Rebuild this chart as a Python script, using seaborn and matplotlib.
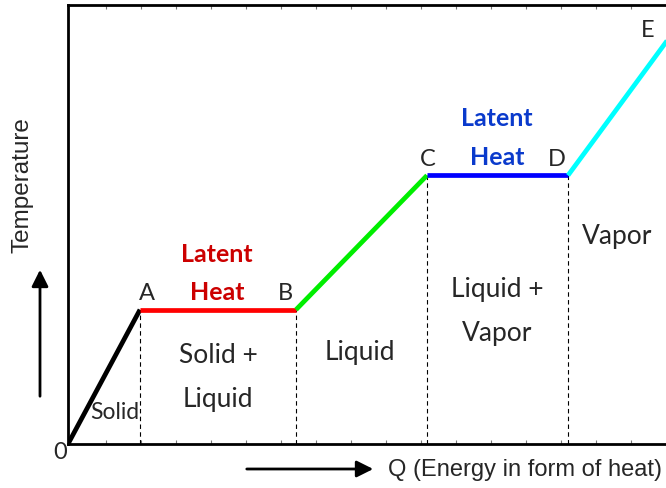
import matplotlib
matplotlib.use("Agg")
import matplotlib.pyplot as plt
import seaborn as sns
import pandas as pd
import numpy as np

# heating curve: energy added (Q) vs temperature
point_names = ["0", "A", "B", "C", "D", "E"]
q_values = [0, 72, 228, 359, 500, 615]
t_values = [0, 134, 134, 268, 268, 424]
segment_colors = ["black", "#ff0000", "#00ee00", "#0000ff", "#00ffff"]

# region labels (text, q, t)
phase_labels = ["Solid", "Solid +\nLiquid", "Liquid", "Liquid +\nVapor", "Vapor"]
phase_q = [47, 150, 292, 429, 549]
phase_t = [32, 67, 92, 133, 208]

sns.set_theme(style="white")
plt.rcParams['font.family'] = ['Lato', 'DejaVu Sans']

fig = plt.figure(figsize=(6.66, 4.89), dpi=100)
ax = fig.add_axes([68 / 666, 44 / 489, 598 / 666, 439 / 489])

for i in range(len(segment_colors)):
    seg = pd.DataFrame({"Q": q_values[i:i + 2], "T": t_values[i:i + 2]})
    sns.lineplot(data=seg, x="Q", y="T", color=segment_colors[i], linewidth=3.4,
                 ax=ax, solid_capstyle="butt", zorder=3)

# dashed drop lines under A, B, C, D
for q, t in zip(q_values[1:5], t_values[1:5]):
    ax.plot([q, q], [0, t], color="black", linestyle=(0, (4, 3)), linewidth=0.8, zorder=2)

ax.set_xlim(0, 598)
ax.set_ylim(0, 438)

for spine in ["left", "bottom", "top"]:
    ax.spines[spine].set_color("black")
    ax.spines[spine].set_linewidth(2)
ax.spines["right"].set_visible(False)

ax.set_xticks(np.arange(38, 598, 35))
ax.set_yticks([])
ax.tick_params(axis="x", which="both", direction="in", length=3, width=0.8, color="#777777",
               top=True, bottom=True, labelbottom=False)
ax.set_xlabel("")
ax.set_ylabel("")

# point labels
name_offsets = [(-8, -7), (7, 17), (-11, 17), (1, 17), (-11, 17), (-35, 0)]
for name, q, t, off in zip(point_names, q_values, t_values, name_offsets):
    if name == "E":
        ax.text(580, 414, name, fontsize=17, ha="center", va="center")
    else:
        ax.text(q + off[0], t + off[1], name, fontsize=17, ha="center", va="center", clip_on=False)

for lab, q, t in zip(phase_labels, phase_q, phase_t):
    size = 16.5 if lab == "Solid" else 19
    ax.text(q, t, lab, fontsize=size, ha="center", va="center", linespacing=1.95)

ax.text(149, 171, "Latent\nHeat", fontsize=18, fontweight="bold", color="#cc0000",
        ha="center", va="center", linespacing=1.83)
ax.text(429, 306, "Latent\nHeat", fontsize=18, fontweight="bold", color="#0a3acc",
        ha="center", va="center", linespacing=1.83)

# axis captions with arrows
fig.text(22 / 666, 1 - 185 / 489, "Temperature", rotation=90, ha="center", va="center",
         fontsize=17.5, family="Liberation Sans")
fig.text(388 / 666, 1 - 470 / 489, "Q (Energy in form of heat)", ha="left", va="center",
         fontsize=17, family="Liberation Sans")
fig.patches.append(matplotlib.patches.FancyArrowPatch(
    (40 / 666, 89 / 489), (40 / 666, 221 / 489), transform=fig.transFigure,
    arrowstyle="-|>,head_length=10,head_width=5", color="black", linewidth=2))
fig.patches.append(matplotlib.patches.FancyArrowPatch(
    (244 / 666, 19 / 489), (376 / 666, 19 / 489), transform=fig.transFigure,
    arrowstyle="-|>,head_length=10,head_width=5", color="black", linewidth=2))

fig.savefig("out.png", dpi=100)
